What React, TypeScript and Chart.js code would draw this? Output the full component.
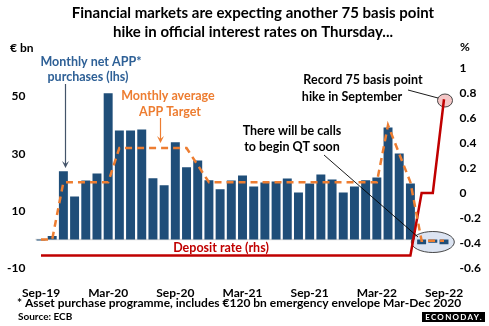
import React, { useEffect, useRef } from "react";
import { Chart, registerables } from "chart.js";
Chart.register(...registerables);

const months = ["Sep-19","Oct-19","Nov-19","Dec-19","Jan-20","Feb-20","Mar-20","Apr-20","May-20","Jun-20","Jul-20","Aug-20","Sep-20","Oct-20","Nov-20","Dec-20","Jan-21","Feb-21","Mar-21","Apr-21","May-21","Jun-21","Jul-21","Aug-21","Sep-21","Oct-21","Nov-21","Dec-21","Jan-22","Feb-22","Mar-22","Apr-22","May-22","Jun-22","Jul-22","Aug-22","Sep-22"];
const netPurchases = [-0.4,1.2,23.9,15.0,20.6,23.1,51.2,38.1,38.1,38.5,21.4,19.0,34.0,25.3,27.6,20.7,17.6,20.6,22.4,18.5,19.9,20.3,21.3,16.4,19.6,22.7,21.0,16.4,18.5,20.7,21.7,39.2,30.1,19.6,-1.7,-1.2,-1.7];
const appTarget = [0,0,20,20,20,20,20,32,32,32,32,32,32,32,26,20,20,20,20,20,20,20,20,20,20,20,20,20,20,20,20,40,30,20,-0.5,-0.5,-0.5];
const depositRate = [-0.5,-0.5,-0.5,-0.5,-0.5,-0.5,-0.5,-0.5,-0.5,-0.5,-0.5,-0.5,-0.5,-0.5,-0.5,-0.5,-0.5,-0.5,-0.5,-0.5,-0.5,-0.5,-0.5,-0.5,-0.5,-0.5,-0.5,-0.5,-0.5,-0.5,-0.5,-0.5,-0.5,-0.5,0,0,0.75];
const leftTicks = [-10, 10, 30, 50];
const rightTicks = [-0.6, -0.4, -0.2, 0, 0.2, 0.4, 0.6, 0.8, 1];

const FONT = "Lato, 'Open Sans', sans-serif";
const BAR = "#1F4E79";
const ORANGE = "#ED7D31";
const RED = "#C00000";
const BLUE_TEXT = "#2E6096";

function text(ctx: CanvasRenderingContext2D, s: string, x: number, y: number, size: number, color: string, align: CanvasTextAlign = "center") {
  ctx.save();
  ctx.font = `bold ${size}px ${FONT}`;
  ctx.fillStyle = color;
  ctx.textAlign = align;
  ctx.textBaseline = "middle";
  ctx.fillText(s, x, y);
  ctx.restore();
}

function arrow(ctx: CanvasRenderingContext2D, x: number, y0: number, y1: number, color: string) {
  ctx.save();
  ctx.strokeStyle = color;
  ctx.fillStyle = color;
  ctx.lineWidth = 1.2;
  ctx.beginPath();
  ctx.moveTo(x, y0);
  ctx.lineTo(x, y1 - 3);
  ctx.stroke();
  ctx.beginPath();
  ctx.moveTo(x - 3.5, y1 - 7);
  ctx.lineTo(x, y1 - 4);
  ctx.lineTo(x + 3.5, y1 - 7);
  ctx.lineTo(x, y1);
  ctx.closePath();
  ctx.fill();
  ctx.restore();
}

function line(ctx: CanvasRenderingContext2D, x0: number, y0: number, x1: number, y1: number) {
  ctx.save();
  ctx.strokeStyle = "#000";
  ctx.lineWidth = 0.9;
  ctx.beginPath();
  ctx.moveTo(x0, y0);
  ctx.lineTo(x1, y1);
  ctx.stroke();
  ctx.restore();
}

const decor = {
  id: "decor",
  beforeDatasetsDraw(chart: any) {
    const { ctx, chartArea, scales } = chart;
    const x = scales.x, y = scales.y, y1 = scales.y1;
    ctx.save();
    ctx.strokeStyle = "#D9D9D9";
    ctx.lineWidth = 1.5;
    ctx.beginPath();
    const zy = y.getPixelForValue(0);
    ctx.moveTo(chartArea.left, zy);
    ctx.lineTo(chartArea.right, zy);
    ctx.stroke();
    ctx.beginPath();
    ctx.ellipse(x.getPixelForValue(35), y.getPixelForValue(-0.9), 21.5, 10.5, 0, 0, Math.PI * 2);
    ctx.fillStyle = "#DCE4F2";
    ctx.fill();
    ctx.strokeStyle = "#333";
    ctx.lineWidth = 0.9;
    ctx.stroke();
    ctx.beginPath();
    ctx.ellipse(x.getPixelForValue(36) + 1, y1.getPixelForValue(0.74), 7.5, 6.5, 0, 0, Math.PI * 2);
    ctx.fillStyle = "#F4C7C7";
    ctx.fill();
    ctx.stroke();
    ctx.restore();
  },
  afterDraw(chart: any) {
    const { ctx } = chart;
    text(ctx, "Financial markets are expecting another 75 basis point", 253, 13, 15, "#000");
    text(ctx, "hike in official interest rates on Thursday...", 253, 32, 15, "#000");
    text(ctx, "€ bn", 10, 48, 12, "#000", "left");
    text(ctx, "%", 460, 47, 12, "#000", "left");
    text(ctx, "Monthly net APP*", 91, 62, 12.5, BLUE_TEXT);
    text(ctx, "purchases (lhs)", 88, 77, 12.5, BLUE_TEXT);
    arrow(ctx, 65.5, 84, 168, "#44546A");
    text(ctx, "Monthly average", 168, 96, 12.5, ORANGE);
    text(ctx, "APP Target", 170, 112, 12.5, ORANGE);
    arrow(ctx, 160.5, 118, 143, ORANGE);
    text(ctx, "Record 75 basis point", 363, 80, 12.5, "#000");
    text(ctx, "hike in September", 352, 97, 12.5, "#000");
    line(ctx, 408, 90, 438, 98);
    text(ctx, "There will be calls", 292, 131, 12.5, "#000");
    text(ctx, "to begin QT soon", 292, 147, 12.5, "#000");
    line(ctx, 324, 155, 418, 237);
    text(ctx, "Deposit rate (rhs)", 221, 248, 12.5, RED);
    text(ctx, "* Asset purchase programme, includes €120 bn emergency envelope Mar-Dec 2020", 17, 303, 12, "#000", "left");
    text(ctx, "Source: ECB", 18, 317, 10, "#000", "left");
    ctx.save();
    ctx.fillStyle = "#000";
    ctx.fillRect(422, 312, 63, 10);
    ctx.font = `bold 8px ${FONT}`;
    (ctx as any).letterSpacing = "1.3px";
    ctx.fillStyle = "#fff";
    ctx.textAlign = "center";
    ctx.textBaseline = "middle";
    ctx.fillText("ECONODAY.", 454, 317.5);
    ctx.restore();
  },
};

export default function App() {
  const ref = useRef<HTMLCanvasElement | null>(null);
  useEffect(() => {
    if (!ref.current) return;
    const chart = new Chart(ref.current, {
      type: "bar",
      data: {
        labels: months,
        datasets: [
          {
            type: "bar",
            data: netPurchases,
            backgroundColor: BAR,
            yAxisID: "y",
            barPercentage: 0.8,
            categoryPercentage: 1,
            order: 3,
          } as any,
          {
            type: "line",
            data: appTarget,
            borderColor: ORANGE,
            borderWidth: 2.5,
            borderDash: [7, 5],
            pointRadius: 0,
            yAxisID: "y",
            order: 1,
          } as any,
          {
            type: "line",
            data: depositRate,
            borderColor: RED,
            borderWidth: 2.5,
            pointRadius: 0,
            yAxisID: "y1",
            order: 2,
          } as any,
        ],
      },
      options: {
        animation: false,
        responsive: false,
        maintainAspectRatio: false,
        devicePixelRatio: 1,
        layout: { padding: { top: 68, left: 0, right: 0, bottom: 0 } },
        plugins: { legend: { display: false }, tooltip: { enabled: false }, title: { display: false } },
        scales: {
          x: {
            grid: { display: false },
            border: { display: false },
            ticks: {
              autoSkip: false,
              maxRotation: 0,
              padding: 10,
              color: "#000",
              font: { family: FONT, size: 12, weight: "bold" },
              callback: (_v: any, i: number) => (i % 6 === 0 ? months[i] : null),
            },
            afterFit: (s: any) => { s.height = 58; },
          },
          y: {
            position: "left",
            min: -10,
            max: 60,
            grid: { display: false, drawTicks: false },
            border: { display: false },
            ticks: { padding: 10, color: "#000", font: { family: FONT, size: 12, weight: "bold" } },
            afterBuildTicks: (s: any) => { s.ticks = leftTicks.map((v) => ({ value: v })); },
            afterFit: (s: any) => { s.width = 35.4; },
          },
          y1: {
            position: "right",
            min: -0.6,
            max: 1,
            grid: { display: false, drawTicks: false },
            border: { display: false },
            ticks: {
              padding: 10,
              color: "#000",
              font: { family: FONT, size: 12, weight: "bold" },
              callback: (v: any) => String(Math.round(Number(v) * 10) / 10),
            },
            afterBuildTicks: (s: any) => { s.ticks = rightTicks.map((v) => ({ value: v })); },
            afterFit: (s: any) => { s.width = 39.4; },
          },
        },
      } as any,
      plugins: [decor],
    });
    return () => chart.destroy();
  }, []);
  return (
    <div style={{ position: "fixed", left: 0, top: 0, width: 489, height: 326, background: "#fff" }}>
      <canvas ref={ref} width={489} height={326} style={{ display: "block", width: 489, height: 326 }} />
    </div>
  );
}
